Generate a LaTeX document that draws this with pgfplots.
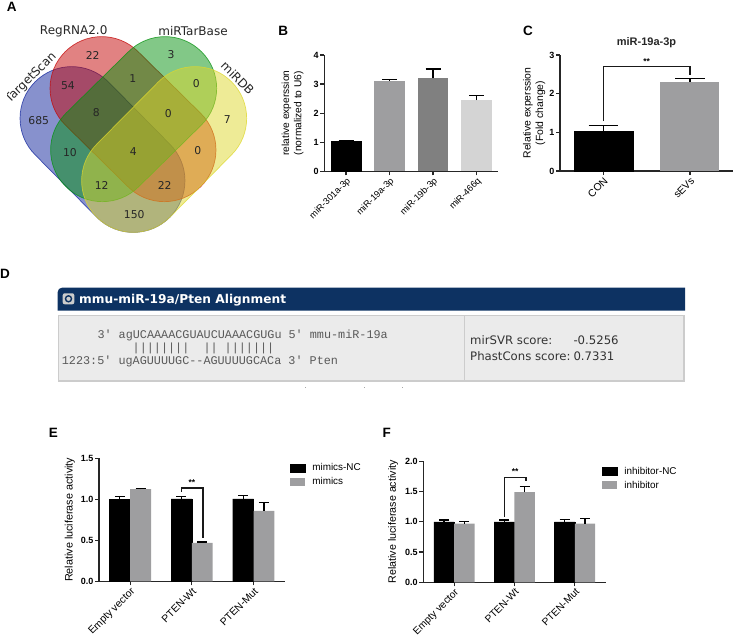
\documentclass[border=0pt]{standalone}
\usepackage{pgfplots}
\pgfplotsset{compat=1.18}
\usepackage{fontspec}
\setmainfont{Liberation Sans}
\newfontfamily\djv{DejaVu Sans}
\newfontfamily\mono{Liberation Mono}
\newcommand{\fs}[1]{\fontsize{#1}{#1}\selectfont}
\definecolor{gbar}{RGB}{158,158,160}
\definecolor{vblue}{RGB}{15,35,155}
\definecolor{vred}{RGB}{195,5,5}
\definecolor{vgreen}{RGB}{5,145,15}
\definecolor{vyellow}{RGB}{221,215,45}
\pgfplotsset{
  gp/.style={
    scale only axis, axis lines=left, axis line style={-,line width=1.2pt,black!85},
    tick align=outside, major tick length=4pt,
    every tick/.style={line width=1.2pt,black!85},
    tick label style={/pgf/number format/assume math mode=true},
    yticklabel style={font=\fs{9}\bfseries,inner sep=1.5pt},
    xticklabel style={font=\fs{10.6},rotate=45,anchor=north east,inner sep=1pt,black},
    clip=false,
    ylabel style={font=\fs{10.8},align=center},
  },
  eb/.style={error bars/.cd, y dir=plus, y explicit,
    error bar style={line width=1.2pt,black},
    error mark options={rotate=90,mark size=#1,line width=1.2pt,black}},
  br/.style={line width=1.2pt,black!90,sharp plot,no marks,forget plot},
  lg/.style={legend image code/.code={\fill[##1] (0pt,-4pt) rectangle (15pt,4pt);},
    legend cell align=left,
    legend style={draw=none,fill=none,font=\fs{9.9},inner sep=0pt,anchor=north west,
      row sep=4.4pt,nodes={inner sep=0pt,text height=8pt,text depth=1.6pt}}},
}
\begin{document}
\begin{tikzpicture}[x=1pt,y=1pt]
\useasboundingbox (0,0) rectangle (734,-636);
% Panel letters
\foreach \l/\x/\y in {A/11.7/7.3,B/283.3/30.7,C/528/30.7,D/5/274,E/53.3/433.3,F/386.7/433.3}
  \node[font=\fs{13.5}\bfseries,inner sep=0pt] at (\x,-\y) {\l};
% Panel A: Venn
\foreach \c/\xa/\ya/\xb/\yb/\s/\e in {
  vblue/71.7/118.3/133.3/180.7/45/225,
  vred/101.7/88.3/164.3/150/45/225,
  vgreen/165/88.3/102.3/150/-45/135,
  vyellow/195/118.3/133.3/180.7/-45/135}{
  \pgfmathsetmacro{\eb}{\e+180}
  \path[fill=\c,fill opacity=.5,draw=\c,draw opacity=.75,line width=.7pt]
    ([shift={(\s:51.67)}]\xa,-\ya) arc (\s:\e:51.67) -- ([shift={(\e:51.67)}]\xb,-\yb) arc (\e:\eb:51.67) -- cycle;
}
\foreach \t/\x/\y in {22/92.7/55.7,3/171/54.3,54/68/85.3,1/132.7/79,0/196.3/83.3,685/38.7/120.7,8/96.3/112.3,0/168.3/113.7,7/227.3/120,10/70/153,4/133.3/151.3,0/197.7/150.7,12/101.7/185.7,22/164.7/185,150/134.3/214.3}
  \node[font=\djv\fs{10.8},inner sep=0pt,black!85] at (\x,-\y) {\t};
\node[font=\djv\fs{12},inner sep=0pt,black!85] at (73.7,-31) {RegRNA2.0};
\node[font=\djv\fs{12},inner sep=0pt,black!85] at (193,-31) {miRTarBase};
\node[font=\djv\fs{12},inner sep=0pt,black!85,rotate=-45] at (237.7,-78) {miRDB};
\begin{scope}
\clip (7,-30) rectangle (80,-110);
\node[font=\djv\fs{12},inner sep=0pt,black!85,rotate=45] at (31,-78) {TargetScan};
\end{scope}
% Panel B
\begin{axis}[gp,at={(324.3pt,-171.3pt)},anchor=south west,width=174pt,height=116.3pt,
  xmin=-0.5,xmax=3.5,ymin=0,ymax=4,ytick={0,1,2,3,4},xtick={0,1,2,3},
  xticklabels={miR-301a-3p,miR-19a-3p,miR-19b-3p,miR-466q},
  xticklabel style={font=\fs{9.2}},
  ylabel={relative experssion\\(normalized to U6)},
  ylabel style={font=\fontsize{10.2}{12.4}\selectfont},ylabel shift=5pt]
\addplot[ybar,bar width=30.6pt,fill=black,draw=black,eb=7.5pt] coordinates {(0,1.02) +- (0,0.02)};
\addplot[ybar,bar width=30.6pt,fill=gbar,draw=none,eb=7.5pt] coordinates {(1,3.12) +- (0,0.03)};
\addplot[ybar,bar width=30.6pt,fill=black!50,draw=none,eb=7.5pt] coordinates {(2,3.20) +- (0,0.32)};
\addplot[ybar,bar width=30.6pt,fill=black!17,draw=none,eb=7.5pt] coordinates {(3,2.45) +- (0,0.17)};
\end{axis}
% Panel C
\begin{axis}[gp,at={(560pt,-171pt)},anchor=south west,width=173.3pt,height=116pt,
  xmin=-0.5,xmax=1.5,ymin=0,ymax=3,ytick={0,1,2,3},xtick={0,1},
  xticklabels={CON,sEVs},
  xticklabel style={font=\fs{10.4}},
  ylabel={Relative experssion\\(Fold change)},
  ylabel style={font=\fontsize{10.4}{12.4}\selectfont},ylabel shift=-1pt]
\addplot[ybar,bar width=59pt,fill=black,draw=black,eb=14.7pt] coordinates {(0,1.02) +- (0,0.16)};
\addplot[ybar,bar width=59pt,fill=gbar,draw=none,eb=14.7pt] coordinates {(1,2.31) +- (0,0.09)};
\addplot[br] coordinates {(0,1.29) (0,2.70) (1,2.70) (1,2.48)};
\node[font=\fs{8.5}\bfseries,inner sep=0pt] at (axis cs:0.5,2.84) {**};
\node[font=\fs{11}\bfseries,inner sep=0pt,black!85] at (axis cs:0.498,3.318) {miR-19a-3p};
\end{axis}
% Panel D
\path[fill={rgb,255:red,13;green,50;blue,98},rounded corners=0pt]
  (57.7,-310.7) -- (57.7,-292) arc (180:90:4.3) -- (685,-287.7) -- (685,-310.7) -- cycle;
\path[fill=black!8,draw=black!20,line width=1.4pt] (58.5,-315.5) rectangle (684,-381.2);
\draw[black!20,line width=1.4pt] (464.3,-315.5) -- (464.3,-381.2);
\path[fill=black!20,rounded corners=2pt] (62.7,-293.3) rectangle (74.3,-304.3);
\node[circle,draw={rgb,255:red,13;green,50;blue,98},line width=1.4pt,minimum size=6pt,inner sep=0pt] at (68.5,-298.8) {};
\node[font=\djv\fs{12.2}\bfseries,white,anchor=west,inner sep=0pt] at (79,-300) {mmu-miR-19a/Pten Alignment};
\node[font=\mono\fs{11.8},black!65,anchor=west,inner sep=0pt] at (97.3,-335.7) {3' agUCAAAACGUAUCUAAACGUGu 5' mmu-miR-19a};
\node[font=\mono\fs{11.8},black!65,anchor=west,inner sep=0pt] at (132.5,-348.3) {||||||||};
\node[font=\mono\fs{11.8},black!65,anchor=west,inner sep=0pt] at (203.3,-348.3) {||};
\node[font=\mono\fs{11.8},black!65,anchor=west,inner sep=0pt] at (224.5,-348.3) {|||||||};
\node[font=\mono\fs{11.8},black!65,anchor=west,inner sep=0pt] at (61.7,-361.7) {1223:5' ugAGUUUUGC--AGUUUUGCACa 3' Pten};
\node[font=\djv\fs{11.7},black!80,anchor=west,inner sep=0pt] at (470,-340) {mirSVR score:};
\node[font=\djv\fs{11.7},black!80,anchor=west,inner sep=0pt] at (470,-356) {PhastCons score:};
\node[font=\djv\fs{11.7},black!80,anchor=west,inner sep=0pt] at (573.3,-340) {-0.5256};
\node[font=\djv\fs{11.7},black!80,anchor=west,inner sep=0pt] at (573.3,-356) {0.7331};
\foreach \x in {305,364,402.7} \fill[black!35] (\x-.5,-388.2) rectangle (\x+.5,-387);
% Panel E
\begin{axis}[gp,lg,at={(99pt,-581.3pt)},anchor=south west,width=186pt,height=123pt,
  xmin=-0.506,xmax=2.51,ymin=0,ymax=1.5,ytick={0,0.5,1,1.5},xtick={0,1,2},
  yticklabel style={/pgf/number format/fixed,/pgf/number format/fixed zerofill,/pgf/number format/precision=1},
  xticklabels={Empty vector,PTEN-Wt,PTEN-Mut},
  xticklabel style={font=\fs{10.4}},
  ylabel={Relative luciferase activity},ylabel shift=1pt,
  legend style={at={(1.027,0.964)}}]
\addplot[ybar,bar width=20.8pt,fill=black,draw=black,eb=5pt] coordinates {(-0.169,1.0) +- (0,0.03) (0.831,1.005) +- (0,0.025) (1.831,1.005) +- (0,0.045)};
\addlegendentry{\hspace{6.7pt}mimics-NC}
\addplot[ybar,bar width=20.8pt,fill=gbar,draw=none,eb=5pt] coordinates {(0.169,1.125) +- (0,0.01) (1.169,0.47) +- (0,0.01) (2.169,0.86) +- (0,0.105)};
\addlegendentry{\hspace{6.7pt}mimics}
\addplot[br] coordinates {(0.83,1.09) (0.83,1.138) (1.18,1.138) (1.18,0.524)};
\node[font=\fs{8.5}\bfseries,inner sep=0pt] at (axis cs:1.0,1.207) {**};
\end{axis}
% Panel F
\begin{axis}[gp,lg,at={(423.3pt,-582.3pt)},anchor=south west,width=182.4pt,height=121pt,
  xmin=-0.512,xmax=2.512,ymin=0,ymax=2,ytick={0,0.5,1,1.5,2},xtick={0,1,2},
  yticklabel style={/pgf/number format/fixed,/pgf/number format/fixed zerofill,/pgf/number format/precision=1},
  xticklabels={Empty vector,PTEN-Wt,PTEN-Mut},
  xticklabel style={font=\fs{10.2}},
  ylabel={Relative luciferase activity},ylabel shift=2pt,ylabel style={font=\fs{10.7}},
  legend style={at={(0.98,0.96)}}]
\addplot[ybar,bar width=20.4pt,fill=black,draw=black,eb=5pt] coordinates {(-0.169,1.0) +- (0,0.03) (0.831,1.0) +- (0,0.03) (1.831,1.0) +- (0,0.04)};
\addlegendentry{\hspace{6.7pt}inhibitor-NC}
\addplot[ybar,bar width=20.4pt,fill=gbar,draw=none,eb=5pt] coordinates {(0.169,0.97) +- (0,0.03) (1.169,1.49) +- (0,0.09) (2.169,0.97) +- (0,0.08)};
\addlegendentry{\hspace{6.7pt}inhibitor}
\addplot[br] coordinates {(0.83,1.085) (0.83,1.735) (1.19,1.735) (1.19,1.675)};
\node[font=\fs{8.5}\bfseries,inner sep=0pt] at (axis cs:1.01,1.83) {**};
\end{axis}
\end{tikzpicture}
\end{document}
